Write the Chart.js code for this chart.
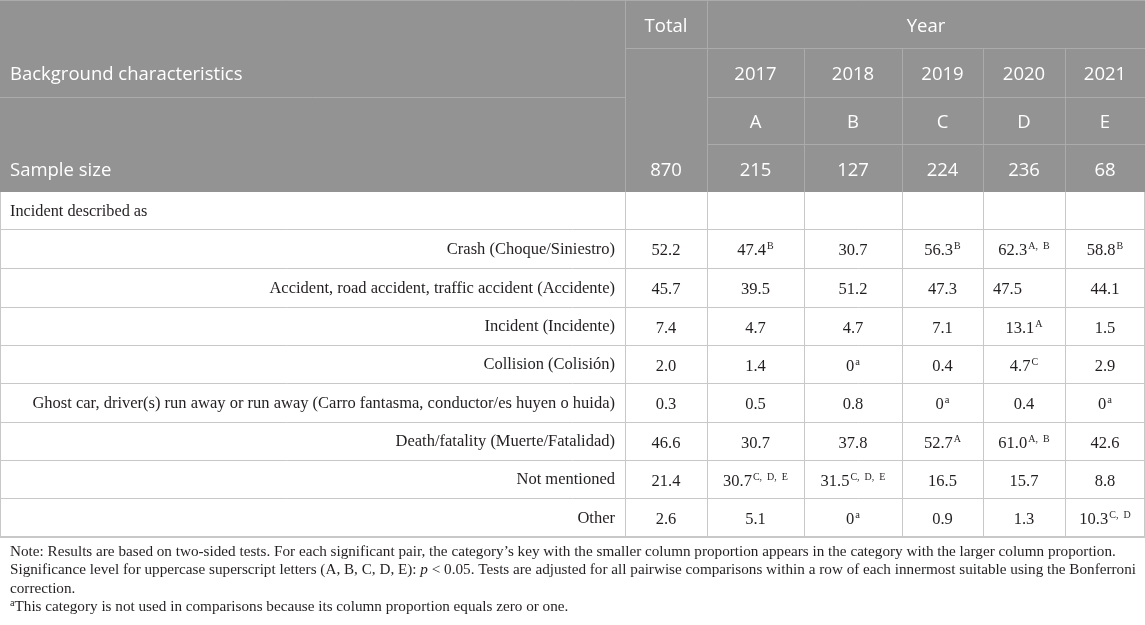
<!DOCTYPE html>
<html>
<head>
<meta charset="utf-8">
<title>Incident described as, by year</title>
<script src="https://cdn.jsdelivr.net/npm/chart.js@4.4.1/dist/chart.umd.min.js"></script>
<style>
  html, body { margin: 0; padding: 0; background: #fff; }
  canvas { display: block; }
</style>
</head>
<body>
<canvas id="table" width="1145" height="625"></canvas>
<script>
const categories = [
    'Crash (Choque/Siniestro)',
    'Accident, road accident, traffic accident (Accidente)',
    'Incident (Incidente)',
    'Collision (Colisión)',
    'Ghost car, driver(s) run away or run away (Carro fantasma, conductor/es huyen o huida)',
    'Death/fatality (Muerte/Fatalidad)',
    'Not mentioned',
    'Other'
];
const years = ['2017', '2018', '2019', '2020', '2021'];
const yearKeys = ['A', 'B', 'C', 'D', 'E'];
const sampleTotal = 870;
const sampleByYear = [215, 127, 224, 236, 68];

const totalPct = [52.2, 45.7, 7.4, 2.0, 0.3, 46.6, 21.4, 2.6];
const pct2017 = [47.4, 39.5, 4.7, 1.4, 0.5, 30.7, 30.7, 5.1];
const pct2018 = [30.7, 51.2, 4.7, 0, 0.8, 37.8, 31.5, 0];
const pct2019 = [56.3, 47.3, 7.1, 0.4, 0, 52.7, 16.5, 0.9];
const pct2020 = [62.3, 47.5, 13.1, 4.7, 0.4, 61.0, 15.7, 1.3];
const pct2021 = [58.8, 44.1, 1.5, 2.9, 0, 42.6, 8.8, 10.3];

// significance superscripts per cell
const supTotal = ['', '', '', '', '', '', '', ''];
const sup2017 = ['B', '', '', '', '', '', 'C, D, E', ''];
const sup2018 = ['', '', '', 'a', '', '', 'C, D, E', 'a'];
const sup2019 = ['B', '', '', '', 'a', 'A', '', ''];
const sup2020 = ['A, B', '', 'A', 'C', '', 'A, B', '', ''];
const sup2021 = ['B', '', '', '', 'a', '', '', 'C, D'];

const noteLines = [
    'Note: Results are based on two-sided tests. For each significant pair, the category\u2019s key with the smaller column proportion appears in the category with the larger column proportion.',
    'Significance level for uppercase superscript letters (A, B, C, D, E): |p| < 0.05. Tests are adjusted for all pairwise comparisons within a row of each innermost suitable using the Bonferroni',
    'correction.',
    '^a^This category is not used in comparisons because its column proportion equals zero or one.'
];

// ---- layout ----
const colEdges = [0, 625, 707, 804, 902, 983, 1065, 1145];
const rowEdges = [0, 48, 97, 144, 192, 229, 268, 307, 345, 383, 422, 460, 498, 537];
const noteTop = 552;
const noteStep = 18.5;

const headFill = '#939393';
const headLine = '#ababab';
const bodyLine = '#c8c8c8';
const textDark = '#231f20';
const sansFont = '"Open Sans", "Noto Sans", sans-serif';
const serifFont = '"Liberation Serif", "DejaVu Serif", serif';
const bodySize = 16.5;
const headSize = 18.5;
const noteSize = 15.2;

// the 2020 "Accident" cell sits left in the source
const leftCells = new Set(['1,4']);

const columns = [
    { values: totalPct, sups: supTotal },
    { values: pct2017, sups: sup2017 },
    { values: pct2018, sups: sup2018 },
    { values: pct2019, sups: sup2019 },
    { values: pct2020, sups: sup2020 },
    { values: pct2021, sups: sup2021 }
];

function fmt(v) {
    return v === 0 ? '0' : v.toFixed(1);
}

const datasets = columns.map((col, c) => ({
    label: c === 0 ? 'Total' : years[c - 1],
    data: col.values.map((v, i) => ({
        x: (colEdges[c + 1] + colEdges[c + 2]) / 2,
        y: (rowEdges[5 + i] + rowEdges[6 + i]) / 2,
        v: v,
        s: col.sups[i],
        row: i,
        col: c
    })),
    pointRadius: 0,
    showLine: false
}));

function line(ctx, xs, ys, x1, y1, x2, y2) {
    // keep 1px lines crisp
    let px1 = xs.getPixelForValue(x1), px2 = xs.getPixelForValue(x2);
    let py1 = ys.getPixelForValue(y1), py2 = ys.getPixelForValue(y2);
    if (x1 === x2) { px1 = px2 = Math.round(px1) + 0.5; }
    if (y1 === y2) { py1 = py2 = Math.round(py1) + 0.5; }
    ctx.beginPath();
    ctx.moveTo(px1, py1);
    ctx.lineTo(px2, py2);
    ctx.stroke();
}

const tablePlugin = {
    id: 'tablePlugin',
    beforeDatasetsDraw(chart) {
        const { ctx, scales: { x, y } } = chart;
        const last = colEdges.length - 1;
        ctx.save();

        // header block
        ctx.fillStyle = headFill;
        ctx.fillRect(x.getPixelForValue(0), y.getPixelForValue(0),
            x.getPixelForValue(colEdges[last]) - x.getPixelForValue(0),
            y.getPixelForValue(rowEdges[4]) - y.getPixelForValue(0));

        ctx.lineWidth = 1;
        ctx.strokeStyle = headLine;
        line(ctx, x, y, 0, 0, colEdges[last], 0);
        line(ctx, x, y, colEdges[1], 0, colEdges[1], rowEdges[4]);
        line(ctx, x, y, colEdges[2], 0, colEdges[2], rowEdges[4]);
        for (let c = 3; c < last; c++) line(ctx, x, y, colEdges[c], rowEdges[1], colEdges[c], rowEdges[4]);
        line(ctx, x, y, colEdges[1], rowEdges[1], colEdges[last], rowEdges[1]);
        line(ctx, x, y, 0, rowEdges[2], colEdges[1], rowEdges[2]);
        line(ctx, x, y, colEdges[2], rowEdges[2], colEdges[last], rowEdges[2]);
        line(ctx, x, y, colEdges[2], rowEdges[3], colEdges[last], rowEdges[3]);

        // body grid
        ctx.strokeStyle = bodyLine;
        const top = rowEdges[4];
        const bottom = rowEdges[rowEdges.length - 1];
        for (let r = 5; r < rowEdges.length - 1; r++) line(ctx, x, y, 0, rowEdges[r], colEdges[last], rowEdges[r]);
        line(ctx, x, y, 0, top, 0, bottom);
        line(ctx, x, y, colEdges[last] - 1, top, colEdges[last] - 1, bottom);
        for (let c = 1; c < last; c++) line(ctx, x, y, colEdges[c], top, colEdges[c], bottom);
        ctx.lineWidth = 2;
        ctx.beginPath();
        ctx.moveTo(x.getPixelForValue(0), y.getPixelForValue(bottom));
        ctx.lineTo(x.getPixelForValue(colEdges[last]), y.getPixelForValue(bottom));
        ctx.stroke();

        // header text
        const mid = (a, b) => (a + b) / 2 + 2.5;
        ctx.fillStyle = '#ffffff';
        ctx.font = headSize + 'px ' + sansFont;
        ctx.textBaseline = 'middle';
        ctx.textAlign = 'left';
        ctx.fillText('Background characteristics', x.getPixelForValue(10), y.getPixelForValue(mid(rowEdges[1], rowEdges[2])));
        ctx.fillText('Sample size', x.getPixelForValue(10), y.getPixelForValue(mid(rowEdges[3], rowEdges[4])));
        ctx.textAlign = 'center';
        const r0 = y.getPixelForValue(mid(rowEdges[0], rowEdges[1]));
        ctx.fillText('Total', x.getPixelForValue((colEdges[1] + colEdges[2]) / 2), r0);
        ctx.fillText('Year', x.getPixelForValue((colEdges[2] + colEdges[last]) / 2), r0);
        ctx.fillText(String(sampleTotal), x.getPixelForValue((colEdges[1] + colEdges[2]) / 2), y.getPixelForValue(mid(rowEdges[3], rowEdges[4])));
        years.forEach((yr, i) => {
            const cx = x.getPixelForValue((colEdges[i + 2] + colEdges[i + 3]) / 2);
            ctx.fillText(yr, cx, y.getPixelForValue(mid(rowEdges[1], rowEdges[2])));
            ctx.fillText(yearKeys[i], cx, y.getPixelForValue(mid(rowEdges[2], rowEdges[3])));
            ctx.fillText(String(sampleByYear[i]), cx, y.getPixelForValue(mid(rowEdges[3], rowEdges[4])));
        });

        // row labels
        const midB = (a, b) => (a + b) / 2 + 1;
        ctx.fillStyle = textDark;
        ctx.font = '16.3px ' + serifFont;
        ctx.textAlign = 'left';
        ctx.fillText('Incident described as', x.getPixelForValue(10), y.getPixelForValue(midB(rowEdges[4], rowEdges[5])));
        ctx.font = bodySize + 'px ' + serifFont;
        ctx.textAlign = 'right';
        categories.forEach((cat, i) => {
            ctx.fillText(cat, x.getPixelForValue(colEdges[1] - 10), y.getPixelForValue(midB(rowEdges[5 + i], rowEdges[6 + i])));
        });

        // notes
        ctx.textAlign = 'left';
        noteLines.forEach((txt, i) => {
            let px = x.getPixelForValue(10);
            const py = y.getPixelForValue(noteTop + i * noteStep);
            txt.split(/(\|[^|]*\||\^[^^]*\^)/).forEach(part => {
                if (!part) return;
                if (part[0] === '|') {
                    ctx.font = 'italic ' + noteSize + 'px ' + serifFont;
                    part = part.slice(1, -1);
                    ctx.fillText(part, px, py);
                } else if (part[0] === '^') {
                    ctx.font = (noteSize - 5) + 'px ' + serifFont;
                    part = part.slice(1, -1);
                    ctx.fillText(part, px, py - 4);
                } else {
                    ctx.font = noteSize + 'px ' + serifFont;
                    ctx.fillText(part, px, py);
                }
                px += ctx.measureText(part).width;
            });
        });
        ctx.restore();
    },
    afterDatasetsDraw(chart) {
        const { ctx } = chart;
        ctx.save();
        ctx.fillStyle = textDark;
        ctx.textBaseline = 'alphabetic';
        ctx.textAlign = 'left';
        chart.data.datasets.forEach((ds, di) => {
            const meta = chart.getDatasetMeta(di);
            meta.data.forEach((pt, i) => {
                const raw = ds.data[i];
                const txt = fmt(raw.v);
                ctx.font = bodySize + 'px ' + serifFont;
                const w = ctx.measureText(txt).width;
                const supSize = raw.s === 'a' ? 10.5 : 10;
                ctx.font = supSize + 'px ' + serifFont;
                const supTxt = raw.s.replace(/, /g, ',  ');
                const sw = raw.s ? ctx.measureText(supTxt).width + 1 : 0;
                let x0 = pt.x - (w + sw) / 2;
                if (leftCells.has(raw.row + ',' + raw.col)) {
                    x0 = chart.scales.x.getPixelForValue(colEdges[raw.col + 1] + 10);
                }
                const base = pt.y + 6.5;
                ctx.font = bodySize + 'px ' + serifFont;
                ctx.fillText(txt, x0, base);
                if (raw.s) {
                    ctx.font = supSize + 'px ' + serifFont;
                    ctx.fillText(supTxt, x0 + w + 1, base - 6);
                }
            });
        });
        ctx.restore();
    }
};

new Chart(document.getElementById('table'), {
    type: 'scatter',
    data: { datasets: datasets },
    options: {
        responsive: false,
        animation: false,
        events: [],
        layout: { padding: 0 },
        plugins: {
            legend: { display: false },
            tooltip: { enabled: false },
            title: { display: false }
        },
        scales: {
            x: { type: 'linear', display: false, min: 0, max: colEdges[colEdges.length - 1] },
            y: { type: 'linear', display: false, min: 0, max: 625, reverse: true }
        }
    },
    plugins: [tablePlugin]
});
</script>
</body>
</html>
